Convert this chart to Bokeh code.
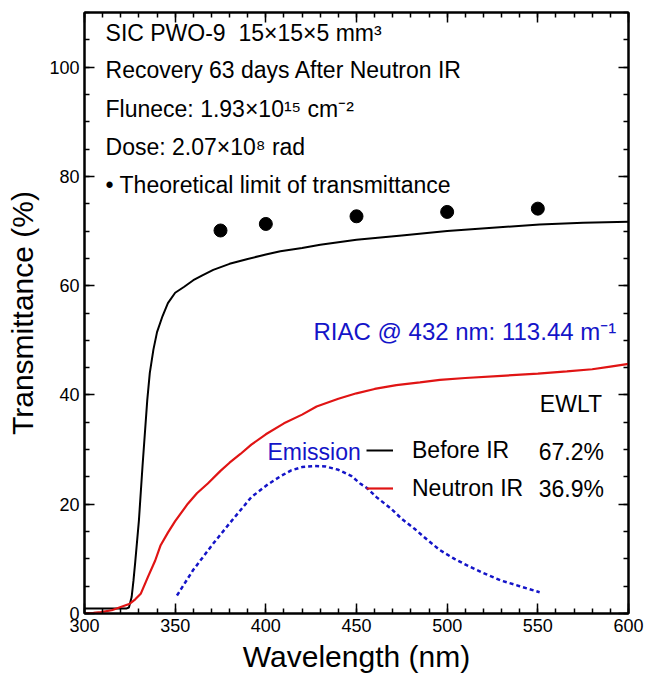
from bokeh.plotting import figure
from bokeh.models import (Range1d, LinearAxis, SingleIntervalTicker, Label,
                          Legend, LegendItem)
from bokeh.embed import file_html
from bokeh.resources import INLINE

# ---------------- data ----------------
before_wl = [300, 310, 320, 323, 324.5, 326, 327, 328, 330, 332, 334.6, 336, 338, 340,
             343, 346, 350, 355, 360, 365, 371, 380, 390, 400, 408, 420, 430, 450,
             475, 500, 525, 551, 575, 600]
before_t = [0.9, 0.9, 0.9, 0.9, 1.1, 3.0, 6.0, 9.5, 17, 27, 39, 44, 48.3, 51.5,
            54.4, 56.8, 58.7, 59.8, 61.0, 61.9, 62.9, 64.0, 64.9, 65.7, 66.3, 66.9, 67.5, 68.4,
            69.2, 70.0, 70.6, 71.2, 71.5, 71.7]

neutron_wl = [300, 305, 309, 315, 320, 325, 328, 331, 335, 339, 342, 346, 350, 357, 362,
              368, 375, 380, 386, 392, 400, 410, 420, 428, 440, 450, 460, 472, 485, 496,
              510, 530, 550, 566, 580, 590, 600]
neutron_t = [0.05, 0.1, 0.25, 0.6, 1.2, 1.8, 2.6, 3.6, 6.7, 9.7, 12.5, 14.8, 16.9, 20.1, 22.0,
             23.8, 26.1, 27.6, 29.2, 30.9, 32.8, 34.8, 36.4, 37.9, 39.3, 40.3, 41.1, 41.8, 42.3, 42.75,
             43.1, 43.5, 43.9, 44.3, 44.7, 45.2, 45.7]

emission_wl = [351, 360, 371, 380, 386, 392, 401, 408, 414, 420, 427, 433, 440, 447, 452, 456,
               461, 469, 475, 482, 489, 496, 504, 511, 520, 530, 540, 551]
emission_v = [3.3, 8.0, 12.8, 16.5, 18.9, 21.3, 23.6, 25.1, 26.2, 26.8, 27.0, 26.9, 26.3, 25.2,
              23.8, 22.9, 21.3, 19.2, 17.3, 15.5, 13.5, 11.6, 10.0, 8.8, 7.4, 6.0, 5.0, 3.9]

limit_wl = [375, 400, 450, 500, 550]
limit_t = [70.1, 71.3, 72.7, 73.5, 74.1]

info_lines = ["SIC PWO-9\u00a0 15\u00d715\u00d75 mm\u00b3",
              "Recovery 63 days After Neutron IR",
              "Flunece: 1.93\u00d710\u00b9\u2075 cm\u207b\u00b2",
              "Dose: 2.07\u00d710\u2078 rad",
              "\u2022 Theoretical limit of transmittance"]
riac_text = "RIAC @ 432 nm: 113.44 m\u207b\u00b9"
series_names = ["Before IR", "Neutron IR"]
ewlt_values = ["67.2%", "36.9%"]

FONT = "Liberation Sans"
RED = "#e01414"
BLUE = "#1414c8"
TXT = "23px"

p = figure(width=646, height=679, output_backend="svg", toolbar_location=None,
           x_range=Range1d(300, 600), y_range=Range1d(0, 110),
           min_border_left=84, min_border_right=18, min_border_top=12, min_border_bottom=66,
           x_axis_label="Wavelength (nm)", y_axis_label="Transmittance (%)")
p.background_fill_color = "white"
p.border_fill_color = "white"
p.outline_line_color = "black"
p.outline_line_width = 2
p.xgrid.grid_line_color = None
p.ygrid.grid_line_color = None

xt = SingleIntervalTicker(interval=50, num_minor_ticks=5)
yt = SingleIntervalTicker(interval=20, num_minor_ticks=4)
p.xaxis.ticker = xt
p.yaxis.ticker = yt

def style_axis(ax, labels=True):
    ax.axis_line_width = 2
    ax.axis_line_color = "black"
    ax.major_tick_in = 10
    ax.major_tick_out = 0
    ax.minor_tick_in = 5
    ax.minor_tick_out = 0
    ax.major_tick_line_width = 1.5
    ax.minor_tick_line_width = 1.5
    ax.major_tick_line_color = "black"
    ax.minor_tick_line_color = "black"
    ax.major_label_text_font = FONT
    ax.major_label_text_font_size = "18px" if labels else "0px"
    ax.major_label_text_color = "black"
    ax.major_label_standoff = 5
    ax.axis_label_text_font = FONT
    ax.axis_label_text_font_style = "normal"
    ax.axis_label_text_font_size = "30px"
    ax.axis_label_text_color = "black"
    ax.axis_label_standoff = 5

for ax in p.xaxis + p.yaxis:
    style_axis(ax)
p.yaxis.axis_label_standoff = 7

top_ax = LinearAxis(ticker=xt)
right_ax = LinearAxis(ticker=yt)
style_axis(top_ax, labels=False)
style_axis(right_ax, labels=False)
p.add_layout(top_ax, "above")
p.add_layout(right_ax, "right")

r_before = p.line(before_wl, before_t, line_color="black", line_width=2)
r_neutron = p.line(neutron_wl, neutron_t, line_color=RED, line_width=2.2)
p.line(emission_wl, emission_v, line_color=BLUE, line_width=2.5, line_dash="4 3")
p.scatter(limit_wl, limit_t, size=13, color="black")

legend = Legend(items=[LegendItem(label=series_names[0], renderers=[r_before]),
                       LegendItem(label=series_names[1], renderers=[r_neutron])],
                location=(282, 110), padding=0, margin=0, spacing=8,
                glyph_width=27, glyph_height=30, label_height=30, label_standoff=19,
                label_text_font=FONT, label_text_font_size=TXT,
                label_text_color="black", label_text_baseline="alphabetic",
                background_fill_alpha=0, border_line_alpha=0)
p.add_layout(legend)

# text annotations (positions in data coordinates)
info_y = [106.3, 99.4, 92.4, 85.4, 78.5]
for txt, yy in zip(info_lines, info_y):
    p.add_layout(Label(x=311.6, y=yy, text=txt, text_font=FONT, text_font_size=TXT,
                       text_color="black", text_baseline="middle", text_align="left"))

p.add_layout(Label(x=426.3, y=51.6, text=riac_text, text_font=FONT, text_font_size="24px",
                   text_color=BLUE, text_baseline="middle", text_align="left"))
p.add_layout(Label(x=551.1, y=38.4, text="EWLT", text_font=FONT, text_font_size=TXT,
                   text_color="black", text_baseline="middle", text_align="left"))
p.add_layout(Label(x=400.9, y=29.5, text="Emission", text_font=FONT, text_font_size=TXT,
                   text_color=BLUE, text_baseline="middle", text_align="left"))
for val, yy in zip(ewlt_values, [29.5, 22.8]):
    p.add_layout(Label(x=550.5, y=yy, text=val, text_font=FONT, text_font_size=TXT,
                       text_color="black", text_baseline="alphabetic", text_align="left"))

open("out.html", "w").write(file_html(p, INLINE))
